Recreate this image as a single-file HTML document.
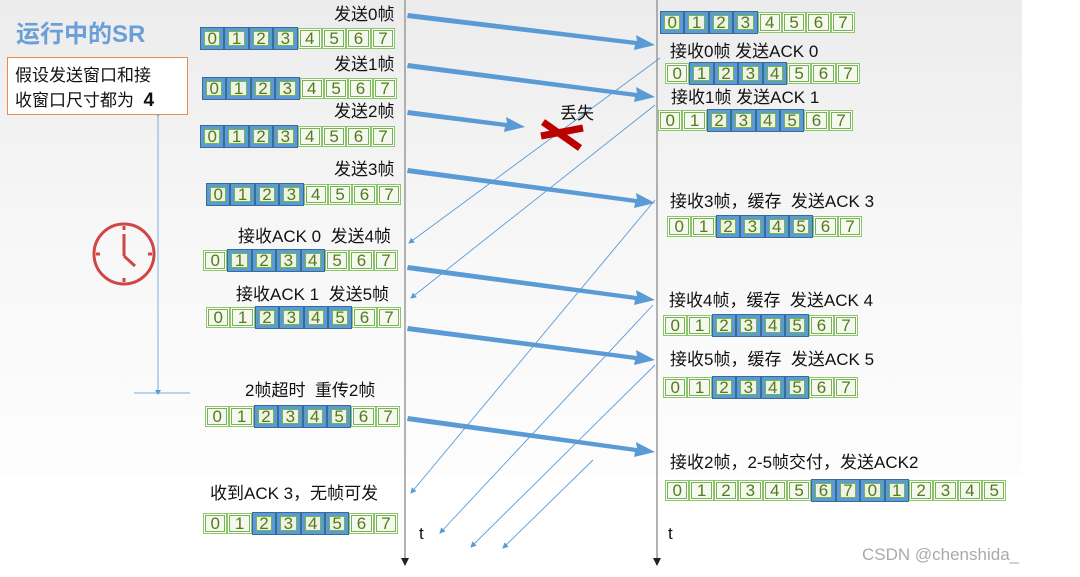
<!DOCTYPE html>
<html><head><meta charset="utf-8"><style>
body{margin:0;width:1080px;height:577px;position:relative;overflow:hidden;background:#fff;font-family:"Liberation Sans","Noto Sans CJK SC",sans-serif}
#bg{position:absolute;left:0;top:0;width:1022px;height:475px;background:linear-gradient(#ececec,#f7f7f7 50%,#fdfdfd)}
.r{position:absolute;display:flex;height:21px}
.r span{width:24.4px;height:21px;box-sizing:border-box;border:1px solid #8cc56a;box-shadow:inset 0 0 0 1px #fff,inset 0 0 0 2px #74b54f;background:#f4f8ee;color:#557a1c;font-size:17px;line-height:19px;text-align:center;font-family:"Liberation Sans",sans-serif}
.r span.b{border:1px solid #3a6a98;box-shadow:inset 0 0 0 3px #5b9bd5,inset 0 0 0 4px #74b54f;background:#eef3e4;height:23px;margin-top:-1px;line-height:21px}
.t{position:absolute;font-size:17px;color:#111;white-space:nowrap;line-height:20px}
</style></head><body>
<div id="bg"></div>
<svg width="1080" height="577" style="position:absolute;left:0;top:0">
<defs>
<marker id="a" markerWidth="6" markerHeight="6" refX="5" refY="3" orient="auto" markerUnits="userSpaceOnUse"><path d="M0,0L6,3L0,6z" fill="#5b9bd5"/></marker>
<marker id="k" markerWidth="8" markerHeight="8" refX="7" refY="4" orient="auto" markerUnits="userSpaceOnUse"><path d="M0,0L8,4L0,8z" fill="#222"/></marker>
</defs>
<line x1="405" y1="0" x2="405" y2="565" stroke="#9a9a9a" stroke-width="1.5" marker-end="url(#k)"/>
<line x1="657" y1="0" x2="657" y2="565" stroke="#9a9a9a" stroke-width="1.5" marker-end="url(#k)"/>
<g stroke="#5b9bd5" stroke-width="0.9" fill="none" marker-end="url(#a)">
<line x1="660" y1="58" x2="409" y2="243"/>
<line x1="655" y1="105" x2="411" y2="298"/>
<line x1="655" y1="200" x2="411" y2="493"/>
<line x1="653" y1="305" x2="440" y2="533"/>
<line x1="655" y1="365" x2="471" y2="547"/>
<line x1="593" y1="460" x2="503" y2="548"/>
</g>
<g fill="#5b9bd5">
<path d="M408,13 L637,41 L636,35 L655,45 L634,50 L635,45 L407,18z"/>
<path d="M408,63 L637,93 L636,87 L655,97 L634,102 L635,97 L407,68z"/>
<path d="M408,110 L507,123 L506,117 L525,127 L504,132 L505,127 L407,115z"/>
<path d="M408,168 L637,199 L636,193 L655,203 L634,208 L635,203 L407,173z"/>
<path d="M408,265 L637,296 L636,290 L655,300 L634,305 L635,300 L407,270z"/>
<path d="M408,326 L637,356 L636,350 L655,360 L634,365 L635,360 L407,331z"/>
<path d="M408,416 L637,448 L636,442 L655,452 L634,457 L635,452 L407,421z"/>
</g>
<g stroke="#b00" stroke-width="7">
<line x1="541" y1="136" x2="583" y2="128"/>
<line x1="543" y1="122" x2="580" y2="148"/>
</g>
<g stroke="#d04545" stroke-width="3" fill="none">
<circle cx="124" cy="254" r="30"/>
<line x1="124" y1="234" x2="124" y2="256"/><line x1="124" y1="256" x2="135" y2="266"/>
<line x1="124" y1="226" x2="124" y2="230"/><line x1="124" y1="278" x2="124" y2="282"/>
<line x1="96" y1="254" x2="100" y2="254"/><line x1="148" y1="254" x2="152" y2="254"/>
</g>
<g stroke="#7aaee0" stroke-width="1"><line x1="158" y1="116" x2="158" y2="392"/><line x1="134" y1="393" x2="190" y2="393"/><line x1="130" y1="112" x2="186" y2="112"/></g>
<path d="M155,112 L161,112 L158,117z M155,390 L161,390 L158,395z" fill="#5b9bd5"/>
</svg>
<div class="t" style="left:16px;top:20px;font-size:24px;font-weight:bold;color:#6a9fd8;line-height:30px">运行中的SR</div>
<div style="position:absolute;left:7px;top:57px;width:179px;height:56px;border:1.5px solid #ed8a4a;background:#fff"></div>
<div class="t" style="left:15px;top:63px;line-height:25px">假设发送窗口和接<br>收窗口尺寸都为 &nbsp;<b style="font-size:19px">4</b></div>

<div class="t" style="left:334px;top:5px">发送0帧</div>
<div class="t" style="left:334px;top:55px">发送1帧</div>
<div class="t" style="left:334px;top:102px">发送2帧</div>
<div class="t" style="left:334px;top:160px">发送3帧</div>
<div class="t" style="left:238px;top:227px">接收ACK 0 &nbsp;发送4帧</div>
<div class="t" style="left:236px;top:285px">接收ACK 1 &nbsp;发送5帧</div>
<div class="t" style="left:245px;top:381px">2帧超时 &nbsp;重传2帧</div>
<div class="t" style="left:210px;top:484px">收到ACK 3，无帧可发</div>
<div class="t" style="left:560px;top:104px">丢失</div>
<div class="t" style="left:670px;top:42px">接收0帧 发送ACK 0</div>
<div class="t" style="left:671px;top:88px">接收1帧 发送ACK 1</div>
<div class="t" style="left:670px;top:192px">接收3帧，缓存 &nbsp;发送ACK 3</div>
<div class="t" style="left:669px;top:291px">接收4帧，缓存 &nbsp;发送ACK 4</div>
<div class="t" style="left:670px;top:350px">接收5帧，缓存 &nbsp;发送ACK 5</div>
<div class="t" style="left:670px;top:453px">接收2帧，2-5帧交付，发送ACK2</div>
<div class="t" style="left:419px;top:524px">t</div>
<div class="t" style="left:668px;top:524px">t</div>
<div class="t" style="left:862px;top:545px;color:#aaa">CSDN @chenshida_</div>

<div class="r" style="left:200px;top:28px"><span class="b">0</span><span class="b">1</span><span class="b">2</span><span class="b">3</span><span>4</span><span>5</span><span>6</span><span>7</span></div>
<div class="r" style="left:202px;top:78px"><span class="b">0</span><span class="b">1</span><span class="b">2</span><span class="b">3</span><span>4</span><span>5</span><span>6</span><span>7</span></div>
<div class="r" style="left:200px;top:126px"><span class="b">0</span><span class="b">1</span><span class="b">2</span><span class="b">3</span><span>4</span><span>5</span><span>6</span><span>7</span></div>
<div class="r" style="left:206px;top:184px"><span class="b">0</span><span class="b">1</span><span class="b">2</span><span class="b">3</span><span>4</span><span>5</span><span>6</span><span>7</span></div>
<div class="r" style="left:203px;top:250px"><span>0</span><span class="b">1</span><span class="b">2</span><span class="b">3</span><span class="b">4</span><span>5</span><span>6</span><span>7</span></div>
<div class="r" style="left:206px;top:307px"><span>0</span><span>1</span><span class="b">2</span><span class="b">3</span><span class="b">4</span><span class="b">5</span><span>6</span><span>7</span></div>
<div class="r" style="left:205px;top:406px"><span>0</span><span>1</span><span class="b">2</span><span class="b">3</span><span class="b">4</span><span class="b">5</span><span>6</span><span>7</span></div>
<div class="r" style="left:203px;top:513px"><span>0</span><span>1</span><span class="b">2</span><span class="b">3</span><span class="b">4</span><span class="b">5</span><span>6</span><span>7</span></div>

<div class="r" style="left:660px;top:12px"><span class="b">0</span><span class="b">1</span><span class="b">2</span><span class="b">3</span><span>4</span><span>5</span><span>6</span><span>7</span></div>
<div class="r" style="left:665px;top:63px"><span>0</span><span class="b">1</span><span class="b">2</span><span class="b">3</span><span class="b">4</span><span>5</span><span>6</span><span>7</span></div>
<div class="r" style="left:658px;top:110px"><span>0</span><span>1</span><span class="b">2</span><span class="b">3</span><span class="b">4</span><span class="b">5</span><span>6</span><span>7</span></div>
<div class="r" style="left:667px;top:216px"><span>0</span><span>1</span><span class="b">2</span><span class="b">3</span><span class="b">4</span><span class="b">5</span><span>6</span><span>7</span></div>
<div class="r" style="left:663px;top:315px"><span>0</span><span>1</span><span class="b">2</span><span class="b">3</span><span class="b">4</span><span class="b">5</span><span>6</span><span>7</span></div>
<div class="r" style="left:663px;top:377px"><span>0</span><span>1</span><span class="b">2</span><span class="b">3</span><span class="b">4</span><span class="b">5</span><span>6</span><span>7</span></div>
<div class="r" style="left:665px;top:480px"><span>0</span><span>1</span><span>2</span><span>3</span><span>4</span><span>5</span><span class="b">6</span><span class="b">7</span><span class="b">0</span><span class="b">1</span><span>2</span><span>3</span><span>4</span><span>5</span></div>
</body></html>
